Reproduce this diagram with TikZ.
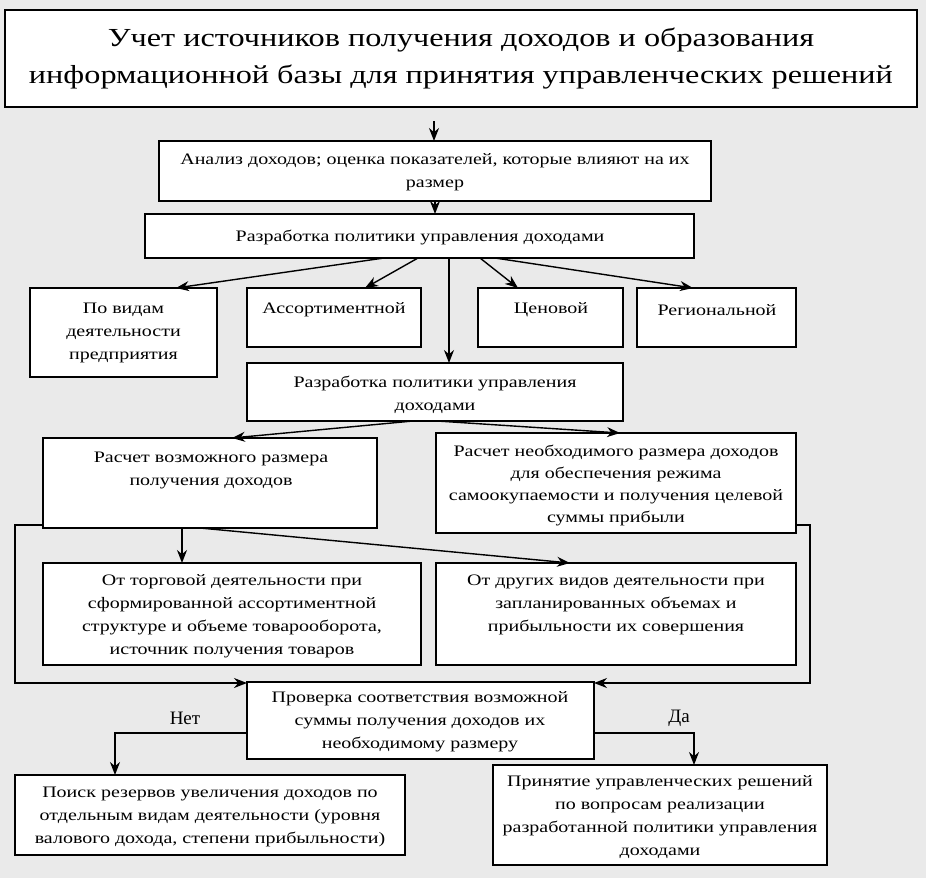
\documentclass[tikz,border=0pt]{standalone}
\usepackage{fontspec}
\setmainfont{Liberation Serif}
\newfontfamily\bodyfont[FakeStretch=1.25]{Liberation Serif}
\newfontfamily\titlefont[FakeStretch=1.24]{Liberation Serif}
\usetikzlibrary{arrows.meta,calc}
\definecolor{bg}{HTML}{EAEAEA}
\begin{document}
\begin{tikzpicture}[x=1pt,y=-1pt,
  box/.style={draw=black, line width=1.5pt, fill=white, inner sep=0pt, outer sep=0pt},
  txt/.style={font=\bodyfont\fontsize{16}{23}\selectfont, align=center, inner sep=0pt},
  lbl/.style={font=\fontsize{19}{23}\selectfont, inner sep=0pt},
  ttl/.style={font=\titlefont\fontsize{26}{37}\selectfont, align=center, inner sep=0pt},
  arr/.style={line width=1.4pt, -{Stealth[length=13pt,width=10pt]}}]
\fill[bg] (0,0) rectangle (926,878);
\useasboundingbox (0,0) rectangle (926,878);
% boxes
\node[box, line width=2pt, minimum width=912pt, minimum height=97pt] (title) at (461,58.5) {};
\node[box, minimum width=552pt, minimum height=60pt] (a) at (435,171) {};
\node[box, minimum width=549pt, minimum height=44pt] (b) at (419.5,236) {};
\node[box, minimum width=187pt, minimum height=89pt] (c1) at (123.5,332.5) {};
\node[box, minimum width=174pt, minimum height=59pt] (c2) at (334,317.5) {};
\node[box, minimum width=145pt, minimum height=59pt] (c3) at (550.5,317.5) {};
\node[box, minimum width=159pt, minimum height=59pt] (c4) at (716.5,317.5) {};
\node[box, minimum width=376pt, minimum height=58pt] (d) at (435,392) {};
\node[box, minimum width=334pt, minimum height=90pt] (e1) at (210,483) {};
\node[box, minimum width=360pt, minimum height=100pt] (e2) at (616,483) {};
\node[box, minimum width=378pt, minimum height=102pt] (f1) at (232,614) {};
\node[box, minimum width=360pt, minimum height=102pt] (f2) at (616,614) {};
\node[box, minimum width=347pt, minimum height=77pt] (g) at (420.5,720.5) {};
\node[box, minimum width=390pt, minimum height=80pt] (h1) at (210,815) {};
\node[box, minimum width=334pt, minimum height=100pt] (h2) at (660,815) {};
% texts
\node[ttl] (titlet) at (461,58.5) {Учет источников получения доходов и образования\\информационной базы для принятия управленческих решений};
\node[txt] (at) at (435,172.5) {Анализ доходов; оценка показателей, которые влияют на их\\размер};
\node[txt] (bt) at (420,237) {Разработка политики управления доходами};
\node[txt] (c1t) at (123.5,332.5) {По видам\\деятельности\\предприятия};
\node[txt] (c2t) at (334,310) {Ассортиментной};
\node[txt] (c3t) at (551,310) {Ценовой};
\node[txt] (c4t) at (717,310) {Региональной};
\node[txt] (dt) at (435,394.5) {Разработка политики управления\\доходами};
\node[txt] (e1t) at (211,470.5) {Расчет возможного размера\\получения доходов};
\node[txt, font=\bodyfont\fontsize{16}{22}\selectfont] (e2t) at (616,485) {Расчет необходимого размера доходов\\для обеспечения режима\\самоокупаемости и получения целевой\\суммы прибыли};
\node[txt] (f1t) at (232,616) {От торговой деятельности при\\сформированной ассортиментной\\структуре и объеме товарооборота,\\источник получения товаров};
\node[txt] (f2t) at (616,605) {От других видов деятельности при\\запланированных объемах и\\прибыльности их совершения};
\node[txt] (gt) at (420,722) {Проверка соответствия возможной\\суммы получения доходов их\\необходимому размеру};
\node[txt] (h1t) at (210,817) {Поиск резервов увеличения доходов по\\отдельным видам деятельности (уровня\\валового дохода, степени прибыльности)};
\node[txt] (h2t) at (660,817.5) {Принятие управленческих решений\\по вопросам реализации\\разработанной политики управления\\доходами};
\node[lbl] (net) at (185,718) {Нет};
\node[lbl] (da) at (679,718) {Да};
% connectors
\coordinate (t0) at (434,121);
\draw[arr] (t0) -- (t0 |- a.north);
\draw[arr] (a.south) -- (a.south |- b.north);
\draw[arr] ($(b.south west)+(239,0)$) -- ($(c1.north west)+(146,0)$);
\draw[arr] ($(b.south west)+(273,0)$) -- ($(c2.north west)+(118,0)$);
\draw[arr] ($(b.south west)+(304,0)$) -- ($(d.north west)+(202,0)$);
\draw[arr] ($(b.south west)+(335,0)$) -- ($(c3.north west)+(40,0)$);
\draw[arr] ($(b.south west)+(350,0)$) -- ($(c4.north west)+(56,0)$);
\draw[arr] ($(d.south west)+(166,0)$) -- ($(e1.north west)+(189,0)$);
\draw[arr] ($(d.south west)+(190,0)$) -- ($(e2.north west)+(184,0)$);
\draw[arr] ($(e1.south west)+(139,0)$) -- ($(f1.north west)+(139,0)$);
\draw[arr] ($(e1.south west)+(157,0)$) -- ($(f2.north west)+(134,0)$);
\draw[arr] ($(e1.south west)+(0,-3)$) -- ++(-28,0) |- ($(g.north west)+(0,1)$);
\draw[arr] ($(e2.south east)+(0,-8)$) -- ++(14,0) |- ($(g.north east)+(0,1)$);
\draw[arr] ($(g.west)+(0,12.5)$) -| ($(h1.north west)+(100,0)$);
\draw[arr] ($(g.east)+(0,12.5)$) -| ($(h2.north west)+(201,0)$);
\end{tikzpicture}
\end{document}
